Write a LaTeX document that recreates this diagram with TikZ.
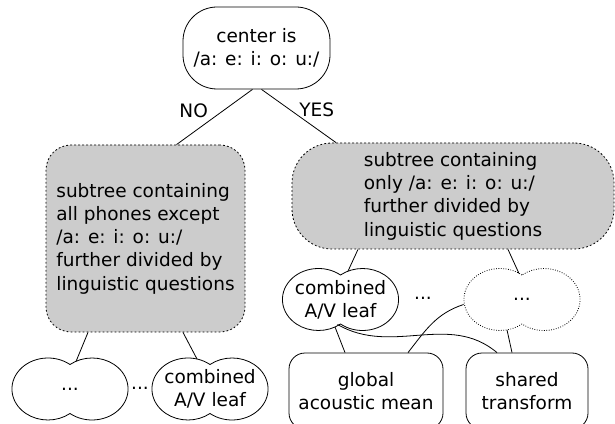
\documentclass[tikz,border=0pt]{standalone}
\usepackage{fontspec}
\setmainfont{DejaVu Sans}
\usepackage{tikz}
\usetikzlibrary{positioning}
\definecolor{subgray}{HTML}{CCCCCC}
\tikzstyle{que}=[draw,rounded corners=34pt,minimum width=147pt,minimum height=82pt,align=center]
\tikzstyle{sub}=[draw,fill=subgray,dash pattern=on 1.8pt off 2.2pt,align=left]
\tikzstyle{lf}=[minimum width=116pt,minimum height=62pt,inner sep=0pt,align=center]
\tikzstyle{par}=[draw,rounded corners=16pt,minimum height=76pt,align=center]
\tikzstyle{con}=[draw]
\newcommand{\vow}{/a: e: i: o: u:/}
% two overlapping ellipses round a leaf
\newcommand{\lobes}[1]{([yshift=24.5pt]#1.center)
  arc[start angle=52.2,end angle=307.8,x radius=36pt,y radius=31pt]
  arc[start angle=232.2,end angle=487.8,x radius=36pt,y radius=31pt] -- cycle}

\begin{document}
\begin{tikzpicture}[x=1pt,y=1pt,line width=0.8pt,font=\fontsize{18.5}{23.3}\selectfont]
		\useasboundingbox (0,0) rectangle (615,423);
		\node[que] (root) at (256.5,375) {center is\\\vow};
		\node[sub,rounded corners=25pt,minimum width=199pt,minimum height=187pt] 
		(nobox) at (145.5,184.5) {subtree containing\\all phones except\\\vow\\further divided by\\linguistic questions};
		\node[sub,rounded corners=40pt,minimum width=322pt,minimum height=106pt] 
		(yesbox) at (453,227) {subtree containing\\only \vow\\further divided by\\linguistic questions};
		\node[lf] (leafa) at (70,34) {...};
		\node (dotsa) at (140,35) {...};
		\node[lf] (leafb) at (210,34) {combined\\A/V leaf};
		\node[lf] (leafc) at (340.5,123.5) {combined\\A/V leaf};
		\node (dotsb) at (423,125) {...};
		\node[lf] (leafd) at (522,123.5) {...};
		\node[par,minimum width=154pt] (mean) at (366,32) {global\\acoustic mean};
		\node[par,minimum width=122pt] (shared) at (527,32) {shared\\transform};
%		
		\draw[con] ([xshift=-4pt]root.south) -- node[pos=0.38,left=12pt] {NO} 
		([xshift=31pt]nobox.north);
		\draw[con] ([xshift=5pt]root.south) -- node[pos=0.39,right=5pt] {YES} 
		([xshift=-117pt]yesbox.north);
		\draw[con] ([xshift=-57.5pt]nobox.south) -- ([xshift=6pt,yshift=27.5pt]leafa.center);
		\draw[con] ([xshift=37.5pt]nobox.south) -- ([xshift=-13pt,yshift=30pt]leafb.center);
		\draw[con] ([xshift=-95pt]yesbox.south) -- ([xshift=7.5pt,yshift=28.4pt]leafc.center);
		\draw[con] ([xshift=55pt]yesbox.south) -- ([xshift=-3pt,yshift=26pt]leafd.center);
		\draw[con] ([xshift=-5.5pt,yshift=-27.5pt]leafc.center) -- ([xshift=-21pt]mean.north);
		\draw[con] ([yshift=-5pt]leafd.west) to[out=198,in=52] ([xshift=42pt]mean.north);
		\draw[con] ([xshift=-3pt,yshift=-25pt]leafc.center) to[out=-30,in=140] 
		([xshift=-30pt]shared.north);
		\draw[con] ([xshift=-15pt,yshift=-30.4pt]leafd.center) -- ([xshift=-15pt]shared.north);
%
		\foreach \n in {leafa,leafb,leafc}
		\draw \lobes{\n};
		\draw[dash pattern=on 0.8pt off 1.6pt] \lobes{leafd};
		\end{tikzpicture}
\end{document}
